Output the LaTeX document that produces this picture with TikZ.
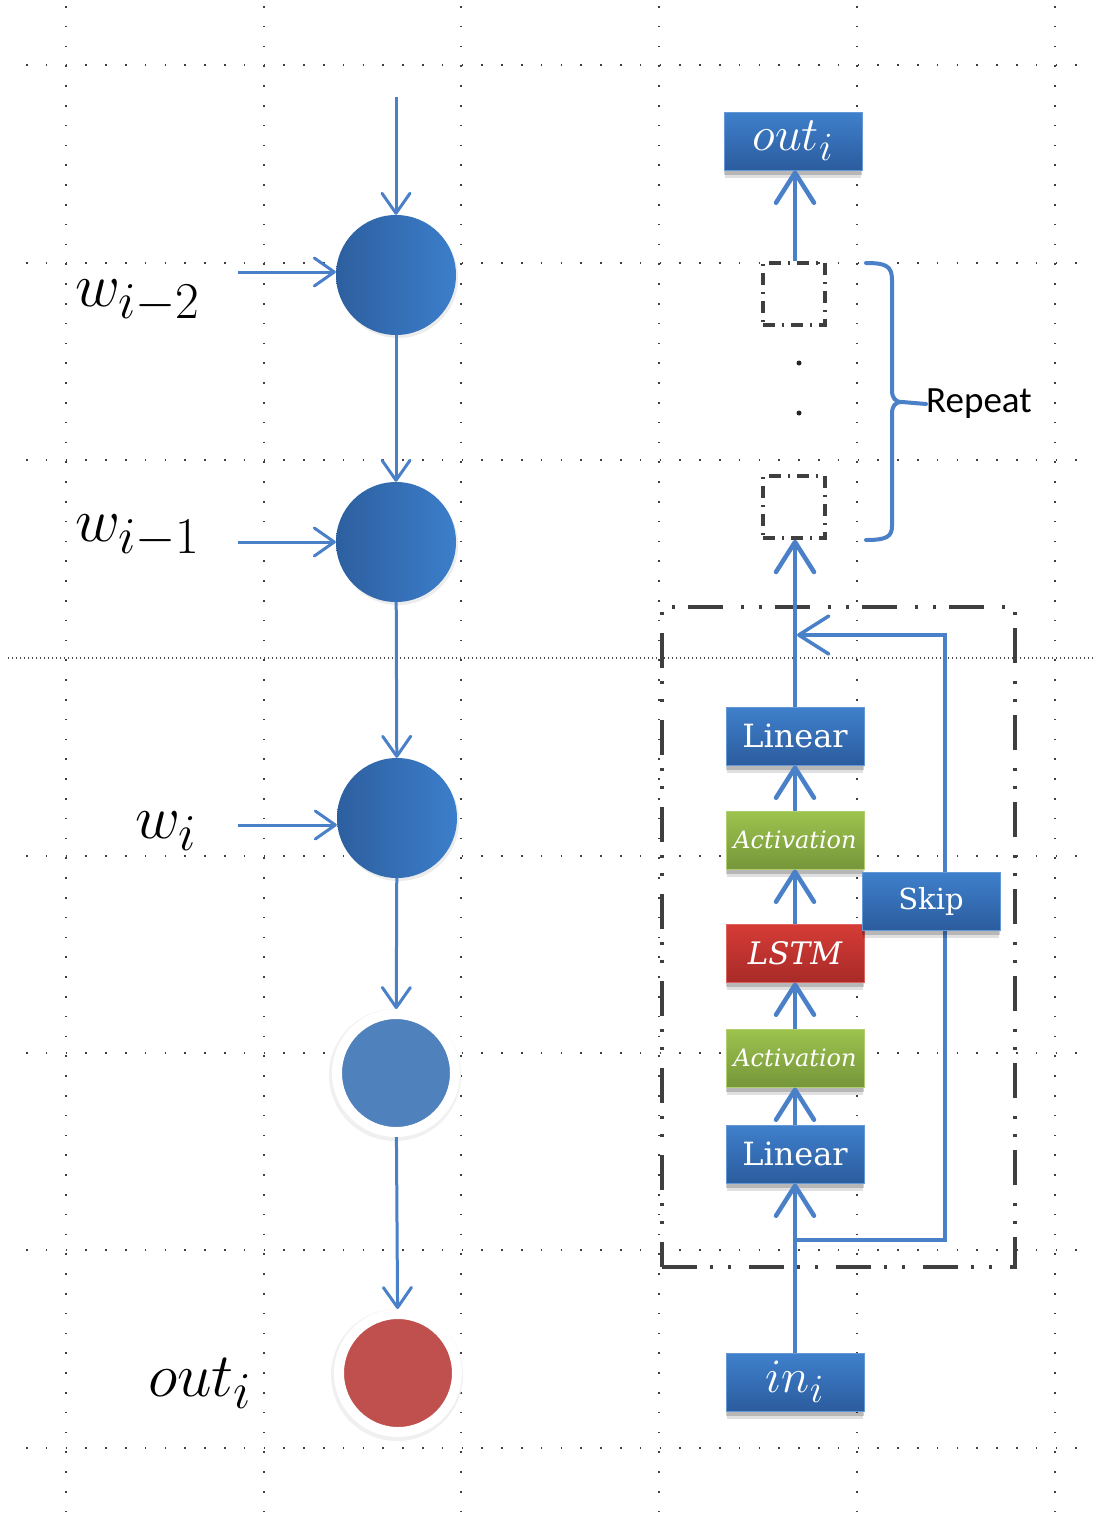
\documentclass[tikz,border=0pt]{standalone}
\usepackage{graphicx}
\usepackage{fontspec}
\newfontfamily\boxfont{DejaVu Serif}
\newfontfamily\repfont{Carlito}
\usetikzlibrary{arrows.meta,shadows,calc}
\definecolor{lblue}{HTML}{4A80C8}
\definecolor{cdark}{HTML}{2D5F9F}
\definecolor{clight}{HTML}{3C7ECB}
\definecolor{cmid}{HTML}{4F81BD}
\definecolor{cred}{HTML}{C0504D}
\definecolor{btop}{HTML}{3F80CC}
\definecolor{bbot}{HTML}{2B5C9E}
\definecolor{gtop}{HTML}{9DC34E}
\definecolor{gbot}{HTML}{76963A}
\definecolor{rtop}{HTML}{D63C36}
\definecolor{rbot}{HTML}{A82A28}
\definecolor{dgray}{HTML}{3F3F3F}
\newcommand{\bigmath}[1]{\scalebox{2.49}{\Huge$#1$}}
\newcommand{\boxmath}[1]{\scalebox{1.93}{\Huge$#1$}}
\begin{document}
\begin{tikzpicture}[x=1pt,y=-1pt,
  griddot/.style={line width=1.6pt,black!75,dash pattern=on 1.6pt off 18.2pt},
  griddense/.style={line width=1.4pt,black!70,dash pattern=on 1.4pt off 2.6pt},
  bigc/.style={circle,minimum size=120pt,inner sep=0pt,draw=none,left color=cdark,right color=clight,
     drop shadow={opacity=0.15,shadow xshift=2pt,shadow yshift=-3pt}},
  ringc/.style={circle,minimum size=118pt,inner sep=0pt,draw=white,line width=10pt},
  lbl/.style={inner sep=0pt},
  larr/.style={draw=lblue,line width=3pt,-{Straight Barb[length=20pt,width=28pt,round]}},
  rarr/.style={draw=lblue,line width=4.5pt,-{Straight Barb[length=30pt,width=38pt,round]}},
  boxbase/.style={rectangle,minimum width=138pt,minimum height=58pt,inner sep=0pt,text=white,
     drop shadow={fill=black,opacity=0.12,shadow xshift=0pt,shadow yshift=-9pt,shadow scale=0.98},
     drop shadow={fill=black,opacity=0.18,shadow xshift=0pt,shadow yshift=-5pt}},
  bbox/.style={boxbase,top color=btop,bottom color=bbot,draw=btop!80!white,line width=1pt},
  gbox/.style={boxbase,top color=gtop,bottom color=gbot,draw=gtop!80!white,line width=1pt},
  rbox/.style={boxbase,top color=rtop,bottom color=rbot,draw=rtop!80!white,line width=1pt},
  lintxt/.style={font=\boxfont\fontsize{32}{36}\selectfont},
  acttxt/.style={font=\boxfont\itshape\fontsize{24}{28}\selectfont},
  lstmtxt/.style={font=\boxfont\itshape\fontsize{31}{34}\selectfont},
  skiptxt/.style={font=\boxfont\fontsize{29}{32}\selectfont},
  dbox/.style={rectangle,minimum size=62pt,inner sep=0pt,draw=dgray,line width=3.5pt,
     dash pattern=on 12pt off 7pt on 2pt off 7pt},
  dotn/.style={circle,fill=black!85,minimum size=5pt,inner sep=0pt},
  blk/.style={rectangle,minimum width=353pt,minimum height=660pt,inner sep=0pt,draw=dgray,line width=4pt,
     dash pattern=on 35pt off 13pt on 3pt off 15pt on 3pt off 18pt},
  brace/.style={draw=lblue,line width=4pt,line cap=round,line join=round},
  rep/.style={inner sep=0pt,font=\repfont\fontsize{37}{42}\selectfont}
]
\useasboundingbox (0,0) rectangle (1094,1529);
\fill[white] (0,0) rectangle (1094,1529);

% grid
\foreach \x in {66,264,461,659,857,1055} \draw[griddot] (\x,6) -- (\x,1529);
\foreach \y in {65,263,460,856,1053,1250,1448} \draw[griddot] (26,\y) -- (1094,\y);
\draw[griddense] (8,658) -- (1094,658);

% ---------- left column ----------
\fill[black!6] (395,1075) circle (66pt);
\fill[black!6] (397,1375) circle (66pt);
\node[bigc] (c1) at (396,275) {};
\node[bigc] (c2) at (396,542) {};
\node[bigc] (c3) at (397,818) {};
\node[ringc,fill=cmid] (c4) at (396,1073) {};
\node[ringc,fill=cred] (c5) at (398,1373) {};

\node[lbl,anchor=base west] (lw2) at (75,306) {\bigmath{w_{i-2}}};
\node[lbl,anchor=base west] (lw1) at (75,541) {\bigmath{w_{i-1}}};
\node[lbl,anchor=base west] (lw0) at (135,838) {\bigmath{w_i}};
\node[lbl,anchor=base west] (lout) at (148,1396) {\bigmath{out_i}};

\coordinate (top) at (396,97);
\coordinate (a1) at (238,272);
\coordinate (a2) at (238,542);
\coordinate (a3) at (238,825);
\draw[larr] (top) -- (c1);
\draw[larr] (c1) -- (c2);
\draw[larr] (c2) -- (c3);
\draw[larr] (c3) -- (c4);
\draw[larr] (c4) -- (c5);
\draw[larr] (a1) -- (a1 -| c1.west);
\draw[larr] (a2) -- (c2);
\draw[larr] (a3) -- (a3 -| c3.west);

% ---------- right column ----------
\node[blk] (blk) at (838.5,937) {};
\node[bbox] (outr) at (793,141) {\boxmath{out_i}};
\node[dbox] (d1) at (794,294) {};
\node[dotn] (p1) at (799,363) {};
\node[dotn] (p2) at (799,413) {};
\node[dbox] (d2) at (794,507) {};
\node[bbox,lintxt] (lin2) at (795,736) {Linear};
\node[gbox,acttxt] (act2) at (795,840) {Activation};
\node[rbox,lstmtxt] (lstm) at (795,953) {LSTM};
\node[gbox,acttxt] (act1) at (795,1058) {Activation};
\node[bbox,lintxt] (lin1) at (795,1154) {Linear};
\node[bbox] (inr) at (795,1382) {\boxmath{in_i}};

\coordinate (s0) at (795,1240);
\coordinate (s1) at (945,1240);
\coordinate (s2) at (945,635);
\coordinate (s3) at (797,635);
\draw[rarr,line width=3.5pt] (s0) -- (s1) -- (s2) -- (s3);
\node[bbox,skiptxt] (skip) at (931,901) {Skip};

\draw[rarr] (d1.north -| lin2) -- (outr.south -| lin2);
\draw[rarr] (lin2.north) -- (d2.south -| lin2);
\draw[rarr] (act2.north) -- (lin2.south);
\draw[rarr] (lstm.north) -- (act2.south);
\draw[rarr] (act1.north) -- (lstm.south);
\draw[rarr] (lin1.north) -- (act1.south);
\draw[rarr] (inr.north) -- (lin1.south);

% brace and label
\node[rep,anchor=west] (rep) at (926,404) {Repeat};
\draw[brace] (866,263) .. controls (886,263) and (892,266) .. (892,280) -- (892,390)
  .. controls (892,398) and (895,402) .. (902,402)
  .. controls (895,402) and (892,406) .. (892,414) -- (892,526)
  .. controls (892,537) and (886,540) .. (866,540);
\draw[brace] (902,402) -- (rep.west);
\end{tikzpicture}
\end{document}
